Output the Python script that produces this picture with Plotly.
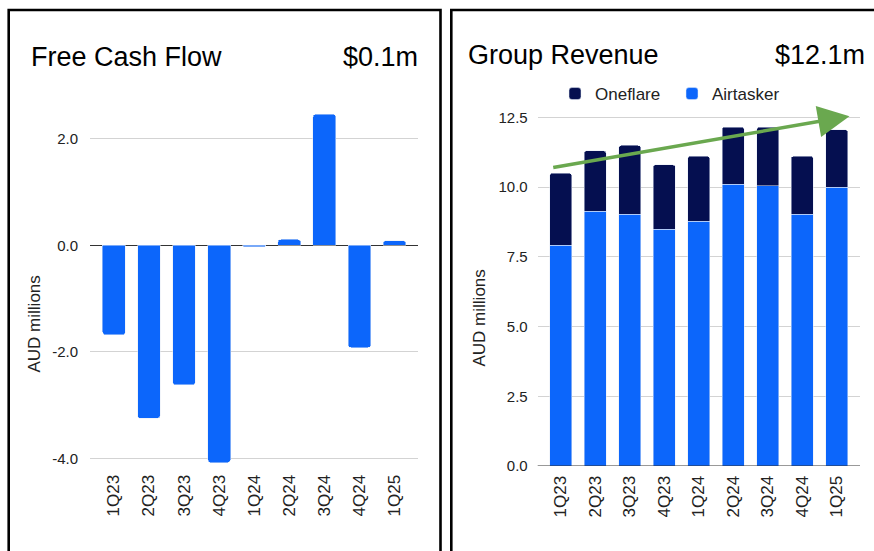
import plotly.graph_objects as go

# ---- data ----
quarters = ["1Q23", "2Q23", "3Q23", "4Q23", "1Q24", "2Q24", "3Q24", "4Q24", "1Q25"]
free_cash_flow = [-1.68, -3.25, -2.62, -4.08, -0.03, 0.11, 2.46, -1.92, 0.09]
airtasker = [7.92, 9.14, 9.03, 8.48, 8.78, 10.10, 10.04, 9.03, 9.99]
oneflare = [2.57, 2.16, 2.46, 2.32, 2.32, 2.05, 2.11, 2.07, 2.06]
fcf_ticks = [-4.0, -2.0, 0.0, 2.0]
rev_ticks = [0.0, 2.5, 5.0, 7.5, 10.0, 12.5]
fcf_headline = "$0.1m"
rev_headline = "$12.1m"
# trend arrow (data coords of right chart): tail -> head
trend_tail = (-0.26, 10.69)
trend_head = (8.37, 12.54)

W, H = 874, 551
BLUE = "#0c66fb"
NAVY = "#050f50"
FONT = "Liberation Sans, Arial, sans-serif"


def px(x):
    return x / W


def py(y):
    return 1 - y / H


fig = go.Figure()
fig.add_trace(go.Bar(x=quarters, y=free_cash_flow, marker_color=BLUE,
                     showlegend=False, xaxis="x", yaxis="y"))
fig.add_trace(go.Bar(x=quarters, y=airtasker, name="Airtasker", marker_color=BLUE,
                     xaxis="x2", yaxis="y2", legendrank=2))
fig.add_trace(go.Bar(x=quarters, y=oneflare, name="Oneflare", marker_color=NAVY,
                     xaxis="x2", yaxis="y2", legendrank=1))

grid = "#d3d3d3"
ytickfont = dict(family=FONT, size=15, color="#222222")
xtickfont = dict(family=FONT, size=17, color="#222222")

fig.update_layout(
    width=W, height=H,
    margin=dict(l=0, r=0, t=0, b=0, autoexpand=False),
    paper_bgcolor="white", plot_bgcolor="white",
    barmode="stack", bargap=0.35, barcornerradius=3,
    font=dict(family=FONT, color="#222222"),
    xaxis=dict(domain=[px(90), px(417.7)], anchor="y", range=[-0.68, 8.66],
               tickangle=-90, tickfont=xtickfont, showgrid=False, automargin=False,
               ticks="outside", ticklen=3, tickcolor="rgba(0,0,0,0)",
               showline=False, zeroline=False, type="category"),
    yaxis=dict(domain=[py(464), py(100)], anchor="x", range=[-4.107, 2.729],
               tickvals=fcf_ticks, ticktext=[f"{v:.1f}" for v in fcf_ticks],
               tickfont=ytickfont, gridcolor=grid, gridwidth=1, automargin=False,
               zeroline=True, zerolinecolor="#333333", zerolinewidth=1,
               ticks="outside", ticklen=8, tickcolor="rgba(0,0,0,0)",
               showline=False),
    xaxis2=dict(domain=[px(537.7), px(860)], anchor="y2", range=[-0.667, 8.675],
                tickangle=-90, tickfont=xtickfont, showgrid=False, automargin=False,
                ticks="outside", ticklen=2, tickcolor="rgba(0,0,0,0)",
                showline=False, zeroline=False, type="category"),
    yaxis2=dict(domain=[py(466), py(110)], anchor="x2", range=[0, 12.76],
                tickvals=rev_ticks, ticktext=[f"{v:.1f}" for v in rev_ticks],
                tickfont=ytickfont, gridcolor=grid, gridwidth=1, automargin=False,
                zeroline=False, showline=False,
                ticks="outside", ticklen=6, tickcolor="rgba(0,0,0,0)"),
    legend=dict(orientation="h", x=px(555), y=py(94), xanchor="left", yanchor="middle",
                traceorder="normal", entrywidth=72, entrywidthmode="pixels",
                font=dict(family=FONT, size=17, color="#222222"),
                bgcolor="rgba(0,0,0,0)", itemwidth=30),
)
# axis x2 zero baseline line
fig.add_shape(type="line", xref="x2 domain", yref="y2", x0=0, x1=1, y0=0, y1=0,
              line=dict(color="#333333", width=1))

# panel borders
fig.add_shape(type="rect", xref="paper", yref="paper",
              x0=px(8.7), x1=px(440.5), y0=py(600), y1=py(10),
              line=dict(color="black", width=2.6), layer="above")
fig.add_shape(type="rect", xref="paper", yref="paper",
              x0=px(451.3), x1=px(900), y0=py(600), y1=py(10),
              line=dict(color="black", width=2.6), layer="above")

titlefont = dict(family=FONT, size=27, color="#000000")
ann = [
    dict(text="Free Cash Flow", x=px(29), y=py(57), xanchor="left", yanchor="middle", font=titlefont),
    dict(text=fcf_headline, x=px(420), y=py(57), xanchor="right", yanchor="middle", font=titlefont),
    dict(text="Group Revenue", x=px(466), y=py(55), xanchor="left", yanchor="middle", font=titlefont),
    dict(text=rev_headline, x=px(867), y=py(55), xanchor="right", yanchor="middle", font=titlefont),
    dict(text="AUD millions", x=px(33.5), y=py(324), xanchor="center", yanchor="middle",
         textangle=-90, font=dict(family=FONT, size=17, color="#222222")),
    dict(text="AUD millions", x=px(478.5), y=py(318), xanchor="center", yanchor="middle",
         textangle=-90, font=dict(family=FONT, size=17, color="#222222")),
]
for a in ann:
    a.update(xref="paper", yref="paper", showarrow=False)
    fig.add_annotation(**a)

# trend arrow
fig.add_annotation(x=trend_head[0], y=trend_head[1], ax=trend_tail[0], ay=trend_tail[1],
                   xref="x2", yref="y2", axref="x2", ayref="y2", text="",
                   showarrow=True, arrowhead=2, arrowsize=1.8, arrowwidth=3.5,
                   arrowcolor="#6aa84f")

fig.write_html("out.html")
